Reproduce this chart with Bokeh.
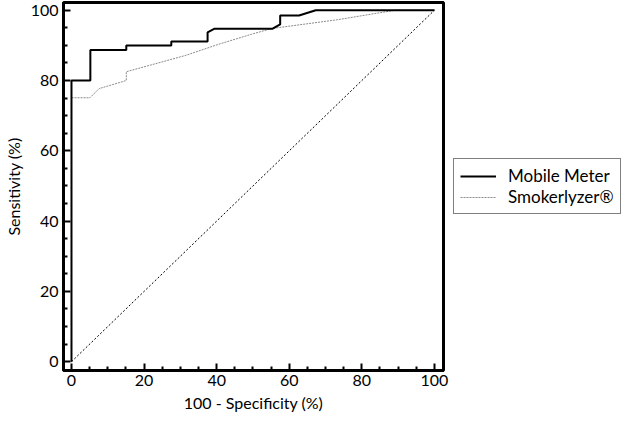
from bokeh.plotting import figure
from bokeh.models import FixedTicker, Legend, LegendItem, Range1d
from bokeh.embed import file_html
from bokeh.resources import INLINE

# Mobile Meter ROC curve (100 - specificity, sensitivity)
mobile_x = [0, 0, 5.2, 5.2, 15.1, 15.1, 27.5, 27.5, 37.5, 37.5, 39.3, 55.3, 57.5, 57.5, 62.7, 67.3, 100]
mobile_y = [0, 80, 80, 88.7, 88.7, 90.0, 90.0, 91.1, 91.1, 93.7, 94.7, 94.7, 96.0, 98.5, 98.5, 100, 100]

# Smokerlyzer ROC curve
smoker_x = [0, 0, 5.1, 7.6, 15.1, 15.1, 31.3, 40.5, 49.7, 55.2, 73.3, 89.2, 100]
smoker_y = [0, 75.1, 75.1, 77.7, 80.0, 82.5, 87.1, 90.3, 93.2, 94.8, 97.3, 100, 100]

# Reference (chance) line
diag_x = [0, 100]
diag_y = [0, 100]

major_ticks = [0, 20, 40, 60, 80, 100]
minor_ticks = [5, 10, 15, 25, 30, 35, 45, 50, 55, 65, 70, 75, 85, 90, 95]

FONT = "Lato"

p = figure(frame_width=380, frame_height=368, output_backend="svg", toolbar_location=None,
           x_range=Range1d(-2.2, 102.5), y_range=Range1d(-2.5, 102.2),
           min_border_left=57, min_border_right=0, min_border_top=2, min_border_bottom=0)

p.xgrid.visible = False
p.ygrid.visible = False
p.outline_line_color = "black"
p.outline_line_width = 3

for ax in (p.xaxis[0], p.yaxis[0]):
    ax.ticker = FixedTicker(ticks=major_ticks, minor_ticks=minor_ticks)
    ax.axis_line_width = 3
    ax.axis_line_color = "black"
    ax.major_tick_in = 7
    ax.major_tick_out = 0
    ax.minor_tick_in = 4
    ax.minor_tick_out = 0
    ax.major_tick_line_width = 2
    ax.minor_tick_line_width = 2
    ax.major_label_text_font = FONT
    ax.major_label_text_font_size = "16px"
    ax.major_label_text_color = "black"
    ax.axis_label_text_font = FONT
    ax.axis_label_text_font_size = "16px"
    ax.axis_label_text_font_style = "normal"
    ax.axis_label_text_color = "black"

p.xaxis.axis_label = "100 - Specificity (%)"
p.yaxis.axis_label = "Sensitivity (%)"
p.xaxis.major_label_standoff = 4
p.yaxis.major_label_standoff = 5
p.xaxis.axis_label_standoff = 4
p.yaxis.axis_label_standoff = 5

p.line(diag_x, diag_y, line_color="black", line_width=1, line_dash="2 2")
r_smoke = p.line(smoker_x, smoker_y, line_color="#8a8a8a", line_width=1, line_dash="2 1")
r_mob = p.line(mobile_x, mobile_y, line_color="black", line_width=2)

legend = Legend(items=[LegendItem(label="Mobile Meter", renderers=[r_mob]),
                       LegendItem(label="Smokerlyzer\u00ae", renderers=[r_smoke])],
                location="center_left")
legend.label_text_font = FONT
legend.label_text_font_size = "17px"
legend.label_text_color = "black"
legend.border_line_color = "black"
legend.border_line_width = 1
legend.glyph_width = 36
legend.label_standoff = 12
legend.spacing = 0
legend.padding = 6
legend.margin = 10
legend.label_height = 20
legend.glyph_height = 20
legend.background_fill_alpha = 1
p.add_layout(legend, "right")

open("out.html", "w").write(file_html(p, INLINE))
